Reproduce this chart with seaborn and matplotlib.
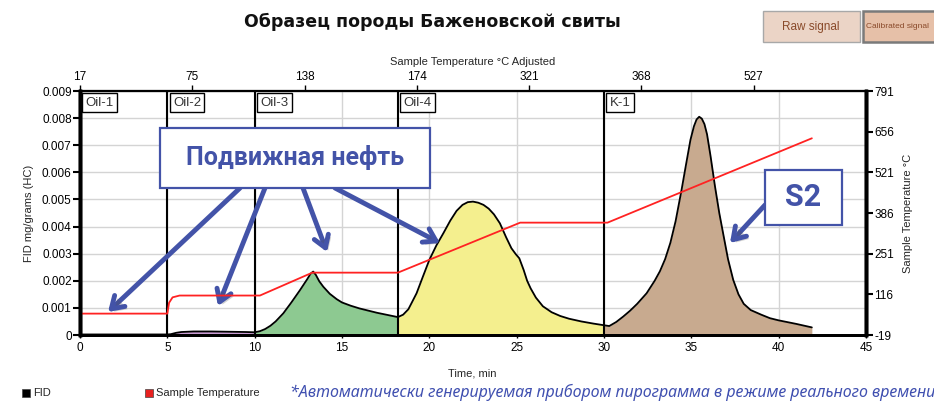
import numpy as np
import pandas as pd
import matplotlib
matplotlib.use("Agg")
import matplotlib.pyplot as plt
import seaborn as sns
from matplotlib.patches import Rectangle
import matplotlib.patheffects as pe

# ---------------- data ----------------
time = [0, 1, 2, 3, 4, 5, 5.2, 5.5, 5.8, 6.5, 7.5, 8.5, 9.5, 10,
        10.3, 10.6, 10.9, 11.2, 11.64, 12.1, 12.6, 13.0, 13.2, 13.35, 13.5,
        13.7, 13.93, 14.3, 14.7, 15.0, 15.5, 16.0, 16.5, 17.0, 17.6, 18.2,
        18.5, 18.8, 19.0, 19.27, 19.6, 20.0, 20.4, 20.8, 21.2, 21.56, 21.9,
        22.2, 22.5, 22.8, 23.1, 23.4, 23.7, 24.04, 24.4, 24.7, 24.95, 25.15,
        25.4, 25.6, 25.8, 26.1, 26.5, 27.0, 27.5, 28.0, 28.7, 29.4, 30.0,
        30.3, 30.7, 31.1, 31.5, 31.9, 32.44, 32.9, 33.2, 33.5, 33.8, 34.1,
        34.44, 34.7, 34.95, 35.15, 35.3, 35.45, 35.6, 35.75, 35.9, 36.1, 36.35,
        36.6, 36.82, 37.1, 37.4, 37.7, 38.0, 38.4, 39.0, 39.5, 40.0, 41.0, 41.9]
fid = [0.00002, 0.00002, 0.00002, 0.00002, 0.00002, 0.00002, 0.00003, 0.00008,
       0.00011, 0.00013, 0.00013, 0.00012, 0.00011, 0.00010,
       0.00014, 0.00022, 0.00034, 0.00050, 0.00080, 0.00120, 0.00166, 0.00205,
       0.00226, 0.00234, 0.00222, 0.00198, 0.00178, 0.00152, 0.00132, 0.00120,
       0.00108, 0.00098, 0.00090, 0.00082, 0.00074, 0.00066,
       0.00075, 0.00095, 0.00120, 0.00154, 0.00210, 0.00277, 0.00330, 0.00375,
       0.00422, 0.00458, 0.00480, 0.00490, 0.00492, 0.00488, 0.00480, 0.00466,
       0.00445, 0.00412, 0.00360, 0.00320, 0.00298, 0.00283, 0.00240, 0.00200,
       0.00172, 0.00138, 0.00106, 0.00084, 0.00070, 0.00060, 0.00050, 0.00042,
       0.00036,
       0.00033, 0.00048, 0.00068, 0.00090, 0.00115, 0.00154, 0.00200, 0.00235,
       0.00280, 0.00340, 0.00420, 0.00535, 0.00630, 0.00720, 0.00770, 0.00795,
       0.00805, 0.00798, 0.00778, 0.00740, 0.00660, 0.00550, 0.00450, 0.00375,
       0.00280, 0.00203, 0.00150, 0.00115, 0.00092, 0.00075, 0.00062, 0.00054,
       0.00041, 0.00028]

temp_time = [0, 5.0, 5.1, 5.3, 5.7, 10.3, 13.3, 18.2, 25.2, 30.2, 41.9]
temp_vals = [52, 52, 88, 106, 112, 112, 188, 188, 354, 354, 634]

zone_bounds = [0, 5, 10, 18.2, 30, 41.9]
zone_names = ["Oil-1", "Oil-2", "Oil-3", "Oil-4", "K-1"]
zone_colors = [None, "#C99BD2", "#8DC991", "#F4EF8E", "#C8AA8F"]

left_ticks = [0, 0.001, 0.002, 0.003, 0.004, 0.005, 0.006, 0.007, 0.008, 0.009]
left_tick_labels = ["0", "0.001", "0.002", "0.003", "0.004", "0.005",
                    "0.006", "0.007", "0.008", "0.009"]
right_ticks = [-19, 116, 251, 386, 521, 656, 791]
top_tick_labels = ["17", "75", "138", "174", "321", "368", "527"]

# ---------------- style ----------------
sns.set_theme(style="white")
NARROW = ["Liberation Sans Narrow", "Liberation Sans", "DejaVu Sans"]
plt.rcParams["font.family"] = NARROW

W, H = 934, 404
fig = plt.figure(figsize=(W / 100, H / 100), dpi=100)
fig.patch.set_facecolor("white")
ax = fig.add_axes([80 / W, 69 / H, 786 / W, 244 / H])

df = pd.DataFrame({"time": time, "fid": fid})
t = np.array(time)
f = np.array(fid)

# fills per zone
for a, b, c in zip(zone_bounds[:-1], zone_bounds[1:], zone_colors):
    if c is None:
        continue
    m = (t >= a) & (t <= b)
    ax.fill_between(t[m], f[m], 0, color=c, lw=0, zorder=2)

sns.lineplot(data=df, x="time", y="fid", ax=ax, color="black", lw=1.3,
             zorder=5, legend=False)

# zone boundary lines + labels
for b, name in zip(zone_bounds[:-1], zone_names):
    if b > 0:
        ax.axvline(b, color="black", lw=1.5, zorder=6)
    ax.annotate(name, xy=(b, 0.009), xytext=(4, -4), textcoords="offset points",
                ha="left", va="top", fontsize=9.5, color="#333333", zorder=8,
                bbox=dict(boxstyle="square,pad=0.25", fc="white", ec="black", lw=1))

ax.set_xlim(0, 45)
ax.set_ylim(0, 0.009)
ax.set_xticks(range(0, 46, 5))
ax.set_yticks(left_ticks)
ax.set_yticklabels(left_tick_labels)
ax.grid(True, color="#D4D4D4", lw=1)
ax.set_axisbelow(True)
ax.tick_params(axis="y", left=True, direction="out", length=5, width=1.5,
               labelsize=8.5, pad=1, colors="black")
ax.tick_params(axis="x", bottom=True, direction="out", length=2, width=1,
               labelsize=8.5, pad=3, colors="black")
ax.set_xlabel("Time, min", fontsize=8, labelpad=4)
ax.xaxis.set_label_coords((472 - 80) / 786, -(368 - 335) / 244)
ax.set_ylabel("FID mg/grams (HC)", fontsize=8, labelpad=6)

# temperature on right axis
ax2 = ax.twinx()
sns.lineplot(x=temp_time, y=temp_vals, ax=ax2, color="#FF2222", lw=1.3,
             legend=False)
ax2.set_ylim(-19, 791)
ax2.set_yticks(right_ticks)
ax2.set_yticklabels([str(v) for v in right_ticks])
ax2.tick_params(axis="y", right=True, direction="out", length=5, width=1.5,
                labelsize=8.5, pad=1, colors="black")
ax2.set_ylabel("Sample Temperature °C", fontsize=8, labelpad=6)
ax2.grid(False)

# top axis
ax3 = ax.twiny()
ax3.set_xlim(0, 45)
ax3.set_xticks([45 * k / 7 for k in range(7)])
ax3.set_xticklabels(top_tick_labels)
ax3.tick_params(axis="x", top=True, direction="out", length=4, width=1,
                labelsize=8.5, pad=2, colors="black")
ax3.set_xlabel("Sample Temperature °C Adjusted", fontsize=8, labelpad=4)
ax3.grid(False)

for a_ in (ax, ax2, ax3):
    for s in a_.spines.values():
        s.set_color("black")
    a_.spines["left"].set_linewidth(2.5)
    a_.spines["right"].set_linewidth(2.5)
    a_.spines["bottom"].set_linewidth(2)
    a_.spines["top"].set_linewidth(1.5)

# ---------------- annotations ----------------
BLUE = "#4353A8"


def fy(py):
    return H - py


shadow = [pe.SimplePatchShadow(offset=(2, -2), alpha=0.25), pe.Normal()]

box1 = Rectangle((160, fy(188)), 270, 60, transform=None, fc="white",
                 ec=BLUE, lw=1.6, zorder=20)
fig.patches.append(box1)
fig.text(295 / W, 1 - 158 / H, "Подвижная нефть", ha="center", va="center",
         fontsize=18, fontweight="bold", color=BLUE, zorder=21,
         family=["Roboto", "DejaVu Sans"])

box2 = Rectangle((765, fy(225)), 77, 55, transform=None, fc="white",
                 ec=BLUE, lw=1.6, zorder=20)
fig.patches.append(box2)
fig.text(803 / W, 1 - 197 / H, "S2", ha="center", va="center",
         fontsize=22, fontweight="bold", color=BLUE, zorder=21,
         family=["Roboto", "DejaVu Sans"])

arrows = [((240, 188), (108, 312)),
          ((265, 188), (218, 306)),
          ((303, 188), (327, 252)),
          ((335, 188), (440, 243)),
          ((765, 205), (730, 243))]
for (sx, sy), (ex, ey) in arrows:
    an = ax.annotate("", xy=(ex, fy(ey)), xycoords="figure pixels",
                     xytext=(sx, fy(sy)), textcoords="figure pixels",
                     arrowprops=dict(arrowstyle="->,head_length=0.7,head_width=0.45",
                                     color=BLUE, lw=3.5, shrinkA=0, shrinkB=0),
                     zorder=19, annotation_clip=False)
    an.arrow_patch.set_path_effects(shadow)

# ---------------- title / buttons ----------------
fig.text(432 / W, 1 - 22 / H, "Образец породы Баженовской свиты", ha="center",
         va="center", fontsize=12.5, fontweight="bold", color="#111111",
         family=["DejaVu Sans"])

btn1 = Rectangle((763, fy(42)), 97, 31, transform=None, fc="#EBD4C6",
                 ec="#A8A8A8", lw=1)
btn2 = Rectangle((863, fy(42)), 90, 31, transform=None, fc="#E6C0A8",
                 ec="#7A7A7A", lw=1.8)
fig.patches.extend([btn1, btn2])
fig.text(811 / W, 1 - 27 / H, "Raw signal", ha="center", va="center",
         fontsize=8.5, color="#8A4A2A", family=["Liberation Sans", "DejaVu Sans"])
fig.text(866 / W, 1 - 27 / H, "Calibrated signal", ha="left", va="center",
         fontsize=6.0, color="#8A4A2A", family=["Liberation Sans", "DejaVu Sans"])

# ---------------- legend / footnote ----------------
fig.patches.append(Rectangle((22, fy(397)), 8, 8, transform=None,
                             fc="black", ec="#444444", lw=0.5))
fig.text(33 / W, 1 - 393 / H, "FID", ha="left", va="center", fontsize=8)
fig.patches.append(Rectangle((145, fy(397)), 8, 8, transform=None,
                             fc="#E8201F", ec="#444444", lw=0.5))
fig.text(156 / W, 1 - 393 / H, "Sample Temperature", ha="left", va="center",
         fontsize=8)
fig.text(290 / W, 1 - 392 / H,
         "*Автоматически генерируемая прибором пирограмма в режиме реального времени",
         ha="left", va="center", fontsize=11.5, style="italic", color="#4050B0",
         family=["Noto Sans", "DejaVu Sans"])

fig.savefig("out.png", dpi=100)
